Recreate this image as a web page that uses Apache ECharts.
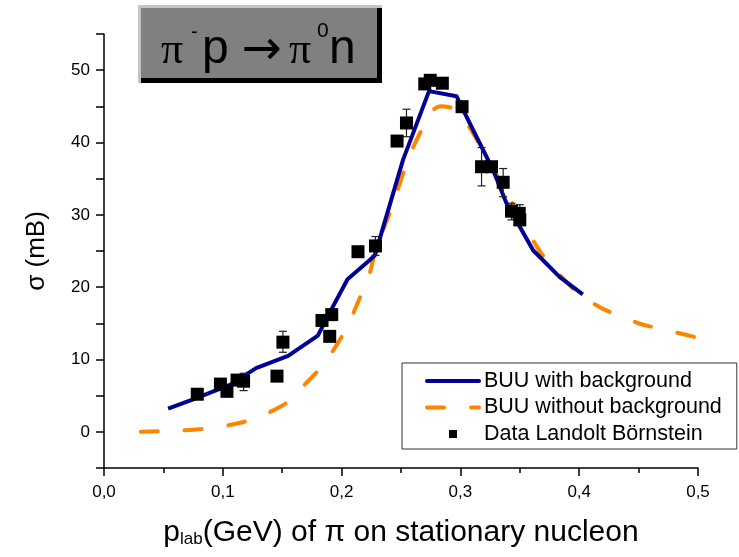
<!DOCTYPE html>
<html><head><meta charset="utf-8">
<script src="https://cdn.jsdelivr.net/npm/echarts@6/dist/echarts.min.js"></script>
<style>html,body{margin:0;padding:0;background:#fff}#c{width:739px;height:557px}</style>
</head><body><div id="c"></div>
<script>
// ---- data ----
const seriesNames = ['BUU with background', 'BUU without background', 'Data Landolt Börnstein'];
const xTickValues = [0, 0.1, 0.2, 0.3, 0.4, 0.5];
const yTickLabels = [0, 10, 20, 30, 40, 50];

const buuWithX = [0.054, 0.075, 0.106, 0.128, 0.155, 0.180, 0.191, 0.205, 0.224, 0.228, 0.2517, 0.2736, 0.2967, 0.3023, 0.3275, 0.3388, 0.3612, 0.3837, 0.403];
const buuWithY = [3.2, 4.5, 6.5, 8.8, 10.5, 13.3, 16.8, 21.1, 23.8, 24.4, 37.6, 47.1, 46.4, 44.5, 36.2, 31.6, 25.1, 21.4, 19.0];

const buuWithoutX = [0.031, 0.066, 0.082, 0.1015, 0.118, 0.1366, 0.1535, 0.170, 0.1858, 0.1984, 0.2068, 0.2147, 0.2222, 0.2293, 0.2405, 0.2574, 0.2757, 0.283, 0.2939, 0.308, 0.322, 0.339, 0.3585, 0.368, 0.383, 0.40, 0.42, 0.45, 0.48, 0.50];
const buuWithoutY = [0.0, 0.2, 0.4, 0.8, 1.4, 2.5, 4.0, 6.7, 9.5, 12.7, 15.2, 18.3, 21.0, 25.6, 30.2, 38.3, 44.3, 45.0, 44.7, 42.0, 38.0, 33.0, 27.2, 24.7, 21.8, 19.0, 17.0, 15.0, 13.8, 13.0];

const dataX = [0.0785, 0.098, 0.1035, 0.112, 0.1175, 0.1456, 0.1506, 0.1835, 0.19, 0.1917, 0.2138, 0.2285, 0.2467, 0.2546, 0.270, 0.2746, 0.2848, 0.3014, 0.3178, 0.3262, 0.336, 0.343, 0.3495, 0.350];
const dataY = [5.2, 6.6, 5.6, 7.15, 7.0, 7.7, 12.4, 15.4, 13.2, 16.2, 24.9, 25.7, 40.2, 42.7, 48.1, 48.6, 48.2, 44.95, 36.65, 36.65, 34.5, 30.5, 30.2, 29.3];

const errX = [0.1175, 0.1506, 0.2285, 0.2546, 0.3178, 0.336, 0.343, 0.350];
const errLow = [5.7, 11.0, 24.4, 40.8, 34.0, 32.5, 29.3, 28.6];
const errHigh = [8.1, 13.9, 27.0, 44.6, 39.3, 36.4, 31.6, 31.4];

// ---- chart ----
const zip = (a, b) => a.map((v, i) => [v, b[i]]);
const FONT = 'Liberation Sans';
const chart = echarts.init(document.getElementById('c'), null, {renderer: 'canvas'});
const hiddenSymbol = {color: 'rgba(0,0,0,0)', borderColor: 'rgba(0,0,0,0)', borderWidth: 0, opacity: 0};

chart.setOption({
  backgroundColor: '#fff',
  animation: false,
  grid: {left: 104, right: 41, top: 34, bottom: 89, containLabel: false, outerBoundsMode: 'none'},
  xAxis: {
    type: 'value', min: 0, max: 0.5, interval: 0.1,
    axisLine: {show: true, onZero: false, lineStyle: {color: '#000', width: 1.5}},
    axisTick: {show: true, inside: false, length: 8, lineStyle: {color: '#000', width: 1.5}},
    minorTick: {show: true, splitNumber: 2, length: 5, lineStyle: {color: '#000', width: 1.5}},
    splitLine: {show: false}, minorSplitLine: {show: false},
    axisLabel: {
      margin: 16, color: '#000', fontFamily: FONT, fontSize: 17,
      formatter: v => xTickValues.some(t => Math.abs(t - v) < 1e-9) ? v.toFixed(1).replace('.', ',') : ''
    }
  },
  yAxis: {
    type: 'value', min: -5, max: 55, interval: 5,
    axisLine: {show: true, onZero: false, lineStyle: {color: '#000', width: 1.5}},
    axisTick: {show: true, inside: false, length: 8, lineStyle: {color: '#000', width: 1.5}},
    splitLine: {show: false},
    axisLabel: {
      margin: 14, color: '#000', fontFamily: FONT, fontSize: 17,
      formatter: v => yTickLabels.some(t => Math.abs(t - v) < 1e-9) ? String(Math.round(v)) : ''
    }
  },
  legend: {
    orient: 'vertical', left: 402, top: 363,
    padding: [7, 15, 4, 23],
    itemWidth: 52, itemHeight: 14, itemGap: 4.5,
    borderColor: '#333', borderWidth: 1, backgroundColor: '#fff',
    textStyle: {fontFamily: FONT, fontSize: 21.5, color: '#000', lineHeight: 22},
    lineStyle: {width: 4, cap: 'round'},
    selectedMode: false,
    data: [
      {name: seriesNames[0], itemStyle: hiddenSymbol},
      {name: seriesNames[1], itemStyle: hiddenSymbol},
      {name: seriesNames[2], icon: 'path://M0,0M14,14M3,3H11V11H3Z'}
    ]
  },
  series: [
    {
      name: seriesNames[0], type: 'line', data: zip(buuWithX, buuWithY),
      symbol: 'none', showSymbol: false, z: 2,
      lineStyle: {color: '#000096', width: 4, join: 'round'},
      itemStyle: {color: '#000096'}
    },
    {
      name: seriesNames[1], type: 'line', data: zip(buuWithoutX, buuWithoutY),
      symbol: 'none', showSymbol: false, z: 1, smooth: 0.2,
      lineStyle: {color: '#ff8400', width: 4, type: [17, 27], cap: 'round'},
      itemStyle: {color: '#ff8400'}
    },
    {
      name: 'errors', type: 'custom', z: 3, silent: true,
      data: errX.map((x, i) => [x, errLow[i], errHigh[i]]),
      encode: {x: 0, y: [1, 2]},
      renderItem: (params, api) => {
        const lo = api.coord([api.value(0), api.value(1)]);
        const hi = api.coord([api.value(0), api.value(2)]);
        const w = 4;
        const st = {stroke: '#222', lineWidth: 1.2};
        return {type: 'group', children: [
          {type: 'line', shape: {x1: lo[0], y1: lo[1], x2: hi[0], y2: hi[1]}, style: st},
          {type: 'line', shape: {x1: lo[0] - w, y1: lo[1], x2: lo[0] + w, y2: lo[1]}, style: st},
          {type: 'line', shape: {x1: hi[0] - w, y1: hi[1], x2: hi[0] + w, y2: hi[1]}, style: st}
        ]};
      }
    },
    {
      name: seriesNames[2], type: 'scatter', data: zip(dataX, dataY), z: 4,
      symbol: 'rect', symbolSize: 13,
      itemStyle: {color: '#000', opacity: 1}
    }
  ],
  graphic: [
    {type: 'rect', shape: {x: 138, y: 5, width: 244, height: 78}, style: {fill: '#c4c4c4'}, z: 10},
    {type: 'rect', shape: {x: 141, y: 8, width: 241, height: 75}, style: {fill: '#000'}, z: 11},
    {type: 'rect', shape: {x: 141, y: 8, width: 236, height: 70}, style: {fill: '#808080'}, z: 12},
    {type: 'text', x: 161, y: 51.6, z: 13, style: {text: 'π', font: '44px "Liberation Serif"', fill: '#000', verticalAlign: 'middle'}},
    {type: 'text', x: 191, y: 32, z: 13, style: {text: '-', font: '20px "Liberation Sans"', fill: '#000', verticalAlign: 'middle'}},
    {type: 'text', x: 202, y: 50.1, z: 13, style: {text: 'p', font: '48px "Liberation Sans"', fill: '#000', verticalAlign: 'middle'}},
    {type: 'text', x: 261.5, y: 52, z: 13, style: {text: '→', font: '48px "DejaVu Sans"', fill: '#000', align: 'center', verticalAlign: 'middle'}},
    {type: 'text', x: 289, y: 51.6, z: 13, style: {text: 'π', font: '44px "Liberation Serif"', fill: '#000', verticalAlign: 'middle'}},
    {type: 'text', x: 317, y: 31.5, z: 13, style: {text: '0', font: '21px "Liberation Sans"', fill: '#000', verticalAlign: 'middle'}},
    {type: 'text', x: 329, y: 50.1, z: 13, style: {text: 'n', font: '48px "Liberation Sans"', fill: '#000', verticalAlign: 'middle'}},
    {type: 'text', x: 37, y: 251, rotation: Math.PI / 2, z: 13,
      style: {text: 'σ (mB)', font: '26px "Liberation Sans"', fill: '#000', align: 'center', verticalAlign: 'middle'}},
    {type: 'text', x: 401, y: 530, z: 13,
      style: {
        text: '{m|p}{s|lab}{m|(GeV) of π on stationary nucleon}',
        align: 'center', verticalAlign: 'middle', fill: '#000',
        rich: {
          m: {fontFamily: FONT, fontSize: 30, fill: '#000', verticalAlign: 'bottom', lineHeight: 35},
          s: {fontFamily: FONT, fontSize: 17, fill: '#000', verticalAlign: 'bottom', lineHeight: 24}
        }
      }}
  ]
});
</script>
</body></html>
